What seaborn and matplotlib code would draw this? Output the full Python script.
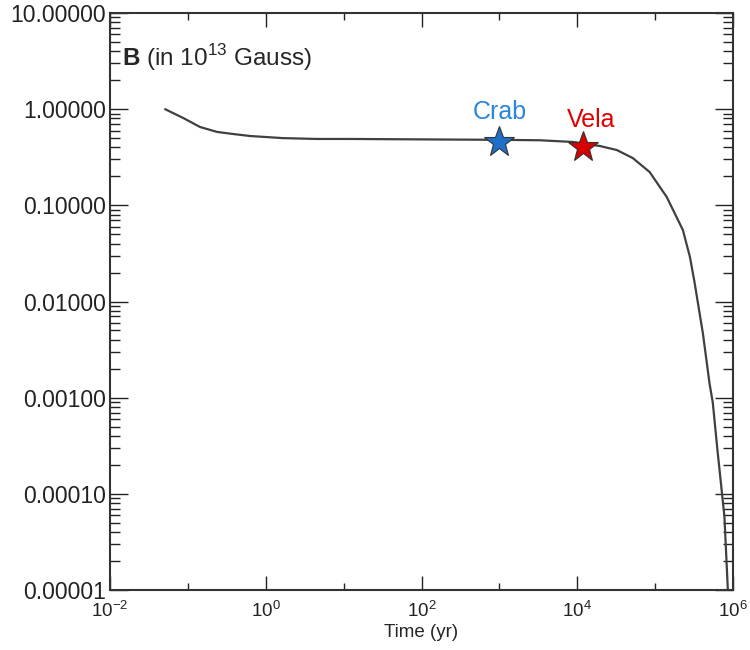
import numpy as np
import pandas as pd
import seaborn as sns
import matplotlib.pyplot as plt
from matplotlib import ticker

# field decay curve (time in yr, B in 1e13 G)
time_yr = [0.051, 0.087, 0.143, 0.237, 0.379, 0.627, 1.66, 4.54, 12, 100,
           1000, 3300, 8800, 19500, 32200, 51700, 85000, 141000, 227000,
           280000, 320000, 410000, 500000, 550000, 630000, 776000,
           850000, 880000]
b_field = [1.0, 0.81, 0.653, 0.58, 0.552, 0.526, 0.50, 0.49, 0.49, 0.485,
           0.48, 0.475, 0.456, 0.414, 0.376, 0.31, 0.222, 0.122, 0.0555,
           0.029, 0.016, 0.0047, 0.0014, 0.00089, 0.00029, 0.000058,
           0.000012, 0.000006]

pulsars = ['Crab', 'Vela']
pulsar_age = [1000, 11700]
pulsar_b = [0.457, 0.40]
pulsar_face = ['#1f6fc8', '#d80000']
pulsar_text = ['#2a86d8', '#e00000']
label_offset = [(0, 13), (6, 11)]  # points, text above each star

x_ticks = [1e-2, 1e0, 1e2, 1e4, 1e6]
x_minor = [1e-1, 1e1, 1e3, 1e5]
x_tick_labels = [r'$\mathregular{10^{-2}}$', r'$\mathregular{10^{0}}$',
                 r'$\mathregular{10^{2}}$', r'$\mathregular{10^{4}}$',
                 r'$\mathregular{10^{6}}$']
y_ticks = [1e-5, 1e-4, 1e-3, 1e-2, 1e-1, 1e0, 1e1]

sns.set_theme(style='ticks')
plt.rcParams['font.family'] = ['Liberation Sans', 'DejaVu Sans']
plt.rcParams['mathtext.fontset'] = 'custom'
plt.rcParams['mathtext.rm'] = 'Liberation Sans'
plt.rcParams['mathtext.bf'] = 'Liberation Sans:bold'

fig = plt.figure(figsize=(7.5, 6.5), dpi=100)
ax = fig.add_axes([110 / 750, 60 / 650, 623 / 750, 577 / 650])

curve = pd.DataFrame({'t': time_yr, 'B': b_field})
sns.lineplot(data=curve, x='t', y='B', ax=ax, color='#404040', lw=1.6, sort=False)

for name, t, b, fc, tc, off in zip(pulsars, pulsar_age, pulsar_b, pulsar_face,
                                   pulsar_text, label_offset):
    ax.plot([t], [b], marker='*', ms=23, mfc=fc, mec='#333333', mew=0.8, zorder=5)
    ax.annotate(name, (t, b), xytext=off, textcoords='offset points',
                ha='center', va='bottom', color=tc, fontsize=18)

ax.set_xscale('log')
ax.set_yscale('log')
ax.set_xlim(1e-2, 1e6)
ax.set_ylim(1e-5, 1e1)

ax.xaxis.set_major_locator(ticker.FixedLocator(x_ticks))
ax.xaxis.set_major_formatter(ticker.FixedFormatter(x_tick_labels))
ax.xaxis.set_minor_locator(ticker.FixedLocator(x_minor))
ax.xaxis.set_minor_formatter(ticker.NullFormatter())
ax.yaxis.set_major_locator(ticker.FixedLocator(y_ticks))
ax.yaxis.set_minor_locator(ticker.LogLocator(base=10, subs=np.arange(2, 10), numticks=20))
ax.yaxis.set_major_formatter(ticker.FormatStrFormatter('%.5f'))
ax.yaxis.set_minor_formatter(ticker.NullFormatter())

ax.tick_params(which='both', direction='in', top=True, right=True,
               colors='#222222', width=1.0)
ax.tick_params(axis='x', which='major', length=10, pad=8, labelsize=13.5)
ax.tick_params(axis='x', which='minor', length=5)
ax.tick_params(axis='y', which='major', length=13, pad=3, labelsize=16.5)
ax.tick_params(axis='y', which='minor', length=7)
for s in ax.spines.values():
    s.set_linewidth(1.5)
    s.set_color('#333333')

ax.set_xlabel('Time (yr)', fontsize=13.5, labelpad=2)
ax.set_ylabel(None)
ax.text(0.02, 0.922, r'$\mathbf{B}$ (in 10$^{13}$ Gauss)', transform=ax.transAxes,
        fontsize=17.5, va='center', ha='left')

fig.savefig('out.png', dpi=100, facecolor='white')
